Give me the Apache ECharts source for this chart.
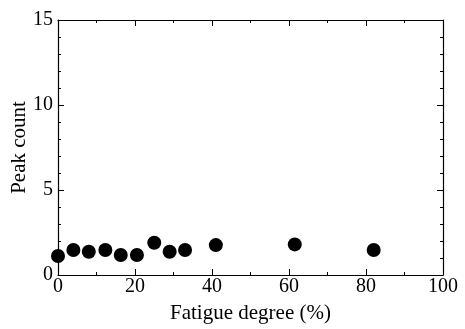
<!DOCTYPE html>
<html>
<head>
<meta charset="utf-8">
<script src="https://cdn.jsdelivr.net/npm/echarts@6/dist/echarts.min.js"></script>
<style>
  html, body { margin: 0; padding: 0; background: #fff; }
  #chart { width: 465px; height: 329px; }
</style>
</head>
<body>
<div id="chart"></div>
<script>
// fatigue degree (%) and peak count
var fatigue = [0, 4, 8, 12.3, 16.3, 20.5, 25, 29, 33, 41, 61.5, 82];
var peakCount = [1.12, 1.47, 1.37, 1.47, 1.18, 1.18, 1.9, 1.37, 1.47, 1.76, 1.8, 1.47];
var xTicks = [0, 20, 40, 60, 80, 100];
var yTicks = [0, 5, 10, 15];

var font = 'Liberation Serif';
var points = fatigue.map(function (x, i) { return [x, peakCount[i]]; });

var chart = echarts.init(document.getElementById('chart'));

function frameAxis(extra) {
    var base = {
        type: 'value',
        axisLine: { show: true, onZero: false, lineStyle: { color: '#000', width: 1.2 } },
        axisTick: { show: true, inside: true, length: 6, lineStyle: { color: '#000' } },
        minorTick: { show: true, length: 3, lineStyle: { color: '#000' } },
        splitLine: { show: false },
        axisLabel: { show: false }
    };
    return Object.assign(base, extra);
}

var option = {
    animation: false,
    grid: { left: 58, right: 22, top: 20, bottom: 54, containLabel: false, outerBoundsMode: 'none' },
    xAxis: [
        frameAxis({
            min: 0, max: 100, interval: 20,
            minorTick: { show: true, splitNumber: 2, length: 3, lineStyle: { color: '#000' } },
            name: 'Fatigue degree (%)',
            nameLocation: 'middle',
            nameGap: 28,
            nameMoveOverlap: false,
            nameTextStyle: { fontFamily: font, fontSize: 21, color: '#000' },
            axisLabel: {
                show: true, margin: 2, fontFamily: font, fontSize: 20, color: '#000',
                formatter: function (v) { return xTicks.indexOf(v) >= 0 ? String(v) : ''; }
            }
        }),
        frameAxis({
            position: 'top',
            min: 0, max: 100, interval: 20,
            minorTick: { show: true, splitNumber: 2, length: 3, lineStyle: { color: '#000' } }
        })
    ],
    yAxis: [
        frameAxis({
            min: 0, max: 15, interval: 5,
            minorTick: { show: true, splitNumber: 5, length: 3, lineStyle: { color: '#000' } },
            name: 'Peak count',
            nameLocation: 'middle',
            nameGap: 28,
            nameMoveOverlap: false,
            nameTextStyle: { fontFamily: font, fontSize: 21, color: '#000' },
            axisLabel: {
                show: true, margin: 5, fontFamily: font, fontSize: 20, color: '#000',
                formatter: function (v) { return yTicks.indexOf(v) >= 0 ? String(v) : ''; }
            }
        }),
        frameAxis({
            position: 'right',
            min: 0, max: 15, interval: 5,
            minorTick: { show: true, splitNumber: 5, length: 3, lineStyle: { color: '#000' } }
        })
    ],
    series: [
        {
            type: 'scatter',
            data: points,
            symbol: 'circle',
            symbolSize: 14,
            itemStyle: { color: '#000', opacity: 1 }
        }
    ]
};

chart.setOption(option);
</script>
</body>
</html>
